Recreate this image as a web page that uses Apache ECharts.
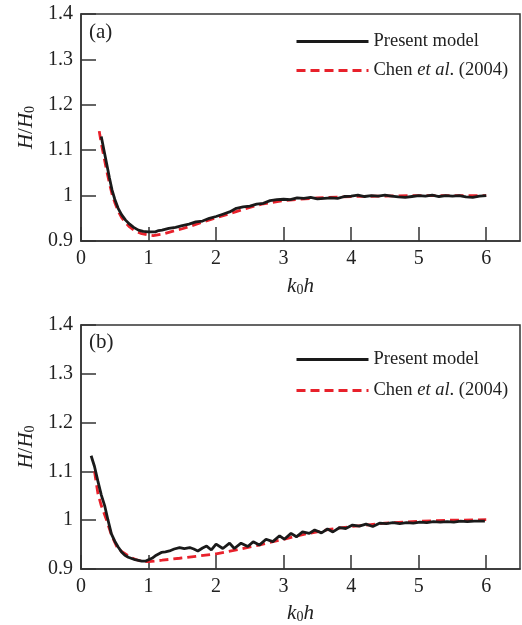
<!DOCTYPE html>
<html>
<head>
<meta charset="utf-8">
<script src="https://cdn.jsdelivr.net/npm/echarts@6/dist/echarts.min.js"></script>
<style>html,body{margin:0;padding:0;background:#fff}#c{width:522px;height:625px}</style>
</head>
<body>
<div id="c"></div>
<script>
// Panel (a) — Present model
const aModelX = [0.30,0.34,0.38,0.42,0.46,0.50,0.55,0.60,0.66,0.72,0.78,0.85,0.92,1.00,1.10,1.15,1.2,1.3,1.4,1.5,1.6,1.7,1.8,1.9,2.0,2.1,2.2,2.3,2.4,2.5,2.6,2.7,2.8,2.9,3.0,3.1,3.2,3.3,3.4,3.5,3.6,3.7,3.8,3.9,4.0,4.1,4.2,4.3,4.4,4.5,4.6,4.7,4.8,4.9,5.0,5.1,5.2,5.3,5.4,5.5,5.6,5.7,5.8,5.9,6.0];
const aModelY = [1.130,1.100,1.070,1.040,1.012,0.992,0.972,0.958,0.946,0.937,0.930,0.924,0.921,0.920,0.920,0.923,0.924,0.928,0.930,0.934,0.937,0.942,0.944,0.950,0.954,0.959,0.964,0.972,0.975,0.977,0.981,0.983,0.989,0.991,0.992,0.991,0.995,0.994,0.996,0.993,0.994,0.995,0.994,0.998,0.999,1.001,0.998,1.000,0.999,1.001,0.999,0.997,0.996,0.998,1.000,0.999,1.001,0.998,1.000,0.999,1.000,0.997,0.996,0.999,1.000];
// Panel (a) — Chen et al. (2004)
const aChenX = [0.27,0.30,0.34,0.38,0.42,0.46,0.50,0.55,0.60,0.66,0.72,0.80,0.90,1.00,1.07,1.2,1.5,2.0,2.5,2.7,3.0,3.5,4.0,4.5,5.0,6.0];
const aChenY = [1.142,1.115,1.085,1.055,1.028,1.003,0.985,0.966,0.952,0.940,0.931,0.922,0.916,0.913,0.912,0.915,0.927,0.951,0.974,0.982,0.989,0.995,0.998,0.999,1.000,1.000];
// Panel (b) — Present model
const bModelX = [0.15,0.20,0.25,0.30,0.35,0.40,0.45,0.50,0.55,0.60,0.65,0.70,0.80,0.90,0.95,1.00,1.05,1.10,1.19,1.25,1.31,1.38,1.46,1.53,1.61,1.67,1.73,1.80,1.86,1.93,2.00,2.10,2.20,2.27,2.37,2.47,2.55,2.64,2.74,2.84,2.94,3.01,3.11,3.19,3.28,3.38,3.46,3.56,3.65,3.73,3.83,3.92,4.02,4.12,4.22,4.32,4.42,4.52,4.62,4.72,4.82,4.92,5.02,5.12,5.22,5.32,5.42,5.52,5.62,5.72,5.82,5.92,5.98];
const bModelY = [1.132,1.110,1.080,1.052,1.030,1.000,0.972,0.957,0.945,0.935,0.928,0.924,0.919,0.916,0.916,0.919,0.922,0.927,0.934,0.935,0.937,0.941,0.944,0.942,0.944,0.941,0.937,0.943,0.947,0.939,0.951,0.942,0.953,0.942,0.953,0.946,0.956,0.949,0.961,0.956,0.968,0.961,0.973,0.966,0.976,0.973,0.980,0.974,0.982,0.976,0.985,0.983,0.990,0.988,0.992,0.987,0.994,0.993,0.995,0.993,0.995,0.994,0.996,0.995,0.997,0.996,0.997,0.996,0.998,0.997,0.998,0.998,0.998];
// Panel (b) — Chen et al. (2004)
const bChenX = [0.20,0.25,0.30,0.38,0.45,0.53,0.60,0.72,0.80,0.89,1.00,1.20,1.46,1.70,2.00,2.30,2.60,2.94,3.30,3.67,4.00,4.50,5.00,5.50,6.00];
const bChenY = [1.100,1.055,1.030,1.000,0.970,0.946,0.936,0.925,0.920,0.916,0.915,0.918,0.922,0.926,0.931,0.939,0.948,0.959,0.971,0.981,0.987,0.994,0.998,1.000,1.001];

const xTicks = [0,1,2,3,4,5,6];
const yTicks = [0.9,1,1.1,1.2,1.3,1.4];
const seriesNames = ['Present model', 'Chen et al. (2004)'];

const zip = (xs, ys) => xs.map((x, i) => [x, ys[i]]);
const FONT = 'Liberation Serif, Times New Roman, serif';
const AX = '#333';

function xAxisFor(gi, gap) {
  return {
    type: 'value', gridIndex: gi, min: 0, max: 6.5, interval: 1,
    name: '{i|k}{s|0}{i|h}', nameLocation: 'middle', nameGap: gap,
    nameTextStyle: { rich: {
      i: { fontFamily: FONT, fontStyle: 'italic', fontSize: 21, color: '#222' },
      s: { fontFamily: FONT, fontSize: 14, color: '#222', verticalAlign: 'bottom', padding: [8,0,0,0] }
    }},
    axisLine: { show: true, lineStyle: { color: AX, width: 1.5 } },
    axisTick: { show: true, inside: true, length: 14, lineStyle: { color: AX, width: 1.5 } },
    axisLabel: { fontFamily: FONT, fontSize: 20, color: '#222', margin: 8, showMaxLabel: false,
      formatter: v => xTicks.includes(v) ? String(v) : '' },
    splitLine: { show: false }
  };
}
function yAxisFor(gi) {
  return {
    type: 'value', gridIndex: gi, min: 0.9, max: 1.4, interval: 0.1,
    name: '{i|H}{n|/}{i|H}{s|0}', nameLocation: 'middle', nameGap: 44, nameRotate: 90,
    nameTextStyle: { rich: {
      i: { fontFamily: FONT, fontStyle: 'italic', fontSize: 21, color: '#222' },
      n: { fontFamily: FONT, fontSize: 21, color: '#222' },
      s: { fontFamily: FONT, fontSize: 14, color: '#222', verticalAlign: 'bottom', padding: [8,0,0,0] }
    }},
    axisLine: { show: true, lineStyle: { color: AX, width: 1.5 } },
    axisTick: { show: true, inside: true, length: 15, lineStyle: { color: AX, width: 1.5 } },
    axisLabel: { fontFamily: FONT, fontSize: 20, color: '#222', margin: 8,
      formatter: v => { const r = Math.round(v * 10) / 10; return yTicks.includes(r) ? String(r) : ''; } },
    splitLine: { show: false }
  };
}
function legendFor(top, gap) {
  return {
    orient: 'vertical', left: 290, top: top, itemWidth: 72, itemHeight: 14, itemGap: gap,
    data: seriesNames,
    itemStyle: { opacity: 0, borderWidth: 0 },
    lineStyle: { width: 3 },
    formatter: n => n === seriesNames[0] ? '{n|Present model}' : '{n|Chen }{i|et al}{n|. (2004)}',
    textStyle: { rich: {
      n: { fontFamily: FONT, fontSize: 18.5, color: '#222' },
      i: { fontFamily: FONT, fontSize: 18.5, fontStyle: 'italic', color: '#222' }
    }}
  };
}
function lineSeries(name, gi, data, dashed) {
  return {
    name: name, type: 'line', xAxisIndex: gi, yAxisIndex: gi, data: data,
    symbol: 'none', showSymbol: false, smooth: false, silent: true, animation: false,
    z: dashed ? 3 : 4,
    lineStyle: dashed ? { color: '#e8212b', width: 2.8, type: [9, 5] } : { color: '#1a1a1a', width: 2.8 },
    itemStyle: { color: dashed ? '#e8212b' : '#1a1a1a' }
  };
}

const chart = echarts.init(document.getElementById('c'), null, { renderer: 'canvas' });
chart.setOption({
  backgroundColor: '#fff',
  animation: false,
  grid: [
    { left: 81, top: 14, width: 439, height: 227, show: true, borderColor: AX, borderWidth: 1.5, containLabel: false },
    { left: 81, top: 325, width: 439, height: 244, show: true, borderColor: AX, borderWidth: 1.5, containLabel: false }
  ],
  xAxis: [xAxisFor(0, 34), xAxisFor(1, 33)],
  yAxis: [yAxisFor(0), yAxisFor(1)],
  legend: [legendFor(27, 10), legendFor(345, 12)],
  graphic: [
    { type: 'text', left: 89, top: 22, style: { text: '(a)', font: '21px ' + FONT, fill: '#222' } },
    { type: 'text', left: 89, top: 332, style: { text: '(b)', font: '21px ' + FONT, fill: '#222' } }
  ],
  series: [
    lineSeries(seriesNames[0], 0, zip(aModelX, aModelY), false),
    lineSeries(seriesNames[1], 0, zip(aChenX, aChenY), true),
    lineSeries(seriesNames[0], 1, zip(bModelX, bModelY), false),
    lineSeries(seriesNames[1], 1, zip(bChenX, bChenY), true)
  ]
});
</script>
</body>
</html>
